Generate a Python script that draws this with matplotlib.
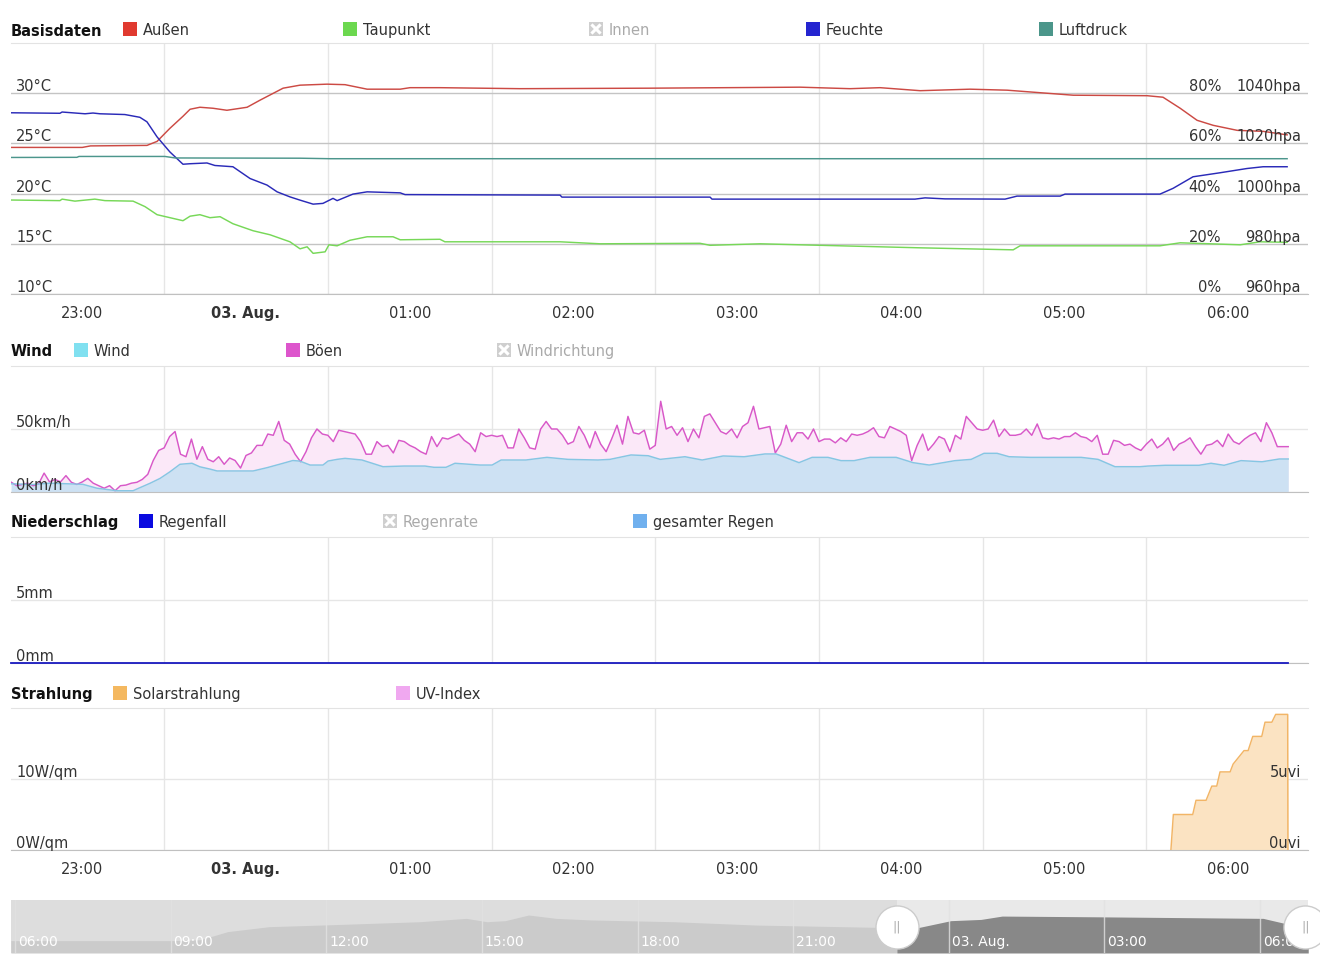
import numpy as np
import matplotlib
matplotlib.use('Agg')
import matplotlib.pyplot as plt
from matplotlib.patches import Rectangle
from matplotlib.lines import Line2D
from matplotlib import transforms as mtrans

plt.rcParams['font.family'] = ['DejaVu Sans']

# ------------------------------------------------------------------ data
# times in minutes relative to 03. Aug. 00:00
temp_t = [-86.1, -60, -57, -36.3, -32.6, -27.9, -23.1, -20.5, -16.9, -12.1, -7.0, 0.4, 5.1, 13.6,
          19.8, 29.7, 36.3, 44.4, 56.5, 60.1, 71.1, 100.4, 148.1, 203.1, 221.4, 232.4, 247.1,
          265.4, 279.0, 291.0, 303.2, 330.3, 336.1, 342.4, 348.6, 354.5, 363.3, 372.8, 381.6]
temp_out = [24.6, 24.6, 24.75, 24.8, 25.2, 26.5, 27.7, 28.4, 28.6, 28.5, 28.3, 28.6, 29.3, 30.5,
            30.8, 30.9, 30.85, 30.4, 30.4, 30.55, 30.55, 30.45, 30.5, 30.6, 30.45, 30.55, 30.25,
            30.4, 30.3, 30.05, 29.8, 29.75, 29.6, 28.5, 27.3, 26.8, 26.3, 26.2, 25.85]

dew_t = [-86.1, -68.2, -67.4, -62.7, -55.4, -51.7, -41.4, -37.0, -32.6, -23.1, -20.5, -16.9,
         -13.2, -9.5, -4.8, 2.6, 8.8, 16.1, 19.8, 22.4, 24.6, 29.0, 30.4, 33.4, 38.1, 44.4,
         53.9, 56.5, 71.1, 72.9, 115.1, 129.8, 166.4, 170.1, 188.5, 203.1, 232.4, 247.1,
         281.2, 283.7, 335.0, 342.4, 364.4, 371.7, 381.6]
dew = [19.36, 19.3, 19.45, 19.25, 19.45, 19.3, 19.25, 18.7, 17.9, 17.3, 17.75, 17.9,
       17.6, 17.7, 17.0, 16.3, 15.9, 15.2, 14.5, 14.7, 14.05, 14.2, 14.9, 14.8, 15.35, 15.7,
       15.7, 15.4, 15.45, 15.2, 15.2, 15.0, 15.05, 14.85, 15.0, 14.9, 14.7, 14.6,
       14.4, 14.8, 14.8, 15.1, 14.9, 15.2, 15.15]

hum_t = [-86.1, -68.2, -67.4, -59.0, -56.1, -53.5, -44.4, -38.9, -36.3, -32.6, -27.9, -23.1,
         -20.5, -14.3, -11.4, -4.8, 1.5, 7.7, 11.4, 16.1, 19.8, 24.6, 28.2, 31.9, 33.4, 39.2,
         44.4, 56.5, 58.3, 115.1, 115.8, 170.1, 170.8, 245.2, 248.9, 256.2, 278.2, 282.6,
         298.4, 300.2, 335.0, 339.8, 347.1, 357.0, 366.9, 372.8, 381.6]
hum = [72.2, 72.0, 72.5, 71.8, 72.1, 71.8, 71.5, 70.4, 68.6, 62.6, 56.6, 51.7,
       51.9, 52.2, 51.2, 50.7, 46.0, 43.4, 40.7, 38.7, 37.4, 35.8, 36.1, 38.1, 37.2, 39.8,
       40.7, 40.3, 39.6, 39.4, 38.6, 38.6, 37.8, 37.8, 38.3, 37.9, 37.8, 39.0,
       39.0, 39.8, 39.8, 42.1, 46.7, 48.3, 50.0, 50.7, 50.7]

press_t = [-86.1, -62.0, -61.2, -29.7, -26.0, 19.8, 30.8, 381.6]
press = [1014.4, 1014.45, 1014.8, 1014.8, 1014.2, 1014.1, 1013.9, 1013.9]

wind_t = [-86.1, -78.1, -71.8, -59.8, -54.6, -47.3, -41.4, -38.9, -35.2, -31.5, -27.9, -24.2,
          -19.8, -16.9, -13.2, -10.6, 2.6, 7.7, 13.6, 17.2, 19.8, 23.5, 28.2, 30.1, 33.4, 36.3,
          42.5, 50.2, 57.9, 65.6, 68.9, 73.3, 76.6, 85.8, 90.2, 93.5, 102.6, 110.3, 118.0,
          129.0, 133.4, 141.1, 147.4, 151.8, 160.9, 167.2, 174.9, 182.6, 190.2, 194.3, 202.7,
          207.5, 213.3, 218.1, 222.9, 228.7, 238.3, 244.5, 250.4, 259.9, 265.8, 270.5, 275.3,
          279.7, 287.4, 306.1, 312.3, 318.5, 327.7, 330.6, 336.9, 349.3, 353.7, 358.5, 364.7,
          372.4, 378.7, 382.0]
wind = [6.5, 6.0, 7.0, 6.1, 3.0, 1.0, 1.0, 3.4, 6.9, 10.8, 16.0, 22.0,
        22.8, 20.0, 18.2, 16.7, 16.7, 19.3, 22.8, 25.0, 24.5, 21.4, 21.4, 24.6, 25.9, 26.7,
        25.4, 20.1, 20.6, 20.6, 19.6, 19.6, 22.8, 21.4, 21.4, 25.4, 25.4, 27.5, 25.9,
        25.4, 25.9, 29.4, 28.8, 25.9, 28.0, 25.4, 28.6, 28.0, 30.2, 30.2, 23.3,
        27.5, 27.5, 24.9, 24.9, 27.5, 27.5, 23.3, 21.4, 24.9, 25.9, 30.7, 30.7,
        28.0, 27.5, 27.5, 25.9, 20.1, 20.1, 20.6, 21.2, 21.2, 22.8, 21.2, 24.9,
        24.0, 26.2, 26.2]

# gusts sampled every 2 minutes starting 22:34 (-86 min)
gust_start_min = -86
gust_step_min = 2
gust = [7.7, 5, 6, 7, 5, 6.5, 15, 8, 10, 8,
        13, 7.7, 6, 8, 10.8, 7, 5, 3, 5, 1,
        5, 5.5, 7, 7.7, 10, 14, 25, 33, 35, 44,
        48, 30, 28, 42, 26, 36, 26, 24, 28, 22,
        27, 25, 19, 29, 31, 37, 37, 46, 45, 56,
        41, 38, 30, 24, 32, 43, 50, 46, 45, 40,
        49, 48, 47, 46, 40, 30, 30, 40, 36, 37,
        31, 41, 40, 37, 35, 32, 30, 44, 36, 43,
        42, 44, 46, 41, 38, 32, 47, 44, 45, 44,
        45, 35, 35, 50, 43, 35, 34, 50, 56, 50,
        50, 45, 38, 40, 52, 45, 35, 48, 38, 32,
        42, 53, 38, 60, 47, 46, 49, 34, 37, 72,
        50, 52, 45, 51, 40, 50, 43, 60, 62, 55,
        48, 46, 50, 43, 52, 55, 68, 50, 51, 52,
        31, 38, 53, 40, 47, 47, 42, 50, 40, 42,
        42, 39, 43, 40, 46, 45, 46, 48, 51, 44,
        43, 52, 50, 48, 45, 25, 37, 46, 33, 38,
        44, 42, 32, 45, 42, 60, 55, 50, 49, 50,
        57, 44, 50, 45, 45, 46, 50, 45, 54, 43,
        42, 43, 42, 44, 44, 47, 44, 43, 40, 45,
        30, 30, 41, 40, 37, 38, 35, 33, 38, 42,
        35, 38, 43, 33, 38, 40, 43, 36, 30, 37,
        38, 41, 36, 46, 40, 38, 42, 45, 47, 40,
        55, 47, 36, 36, 36]

rain_t = [-86.1, 382.0]
rain = [0.0, 0.0]

solar_t = [339.0, 339.9, 347.0, 348.2, 351.9, 354.0, 355.8, 357.0, 360.7, 361.8, 365.8,
           367.3, 369.0, 372.3, 373.5, 376.0, 377.4, 381.8, 381.9]
solar = [0, 5.0, 5.0, 7.0, 7.0, 9.0, 9.0, 11.0, 11.0, 12.1, 14.0,
         14.0, 16.0, 16.0, 18.0, 18.0, 19.1, 19.1, 0]

# navigator: hours relative to 03. Aug. 00:00, outside temperature
nav_t = [-18.08, -14.97, -14.43, -13.9, -13.1, -11.9, -10.2, -9.3, -8.9, -8.55, -8.1, -7.57,
         -6.9, -5.3, -3.7, -2.06, -1.0, -0.6, 0.04, 0.62, 1.03, 2.8, 6.06, 6.47, 6.93]
nav_temp = [17.0, 17.0, 17.5, 22.1, 24.9, 26.0, 27.7, 29.6, 27.7, 28.3, 31.5, 29.6,
            28.7, 27.7, 25.8, 24.9, 24.3, 24.3, 28.3, 29.0, 30.9, 30.5, 29.6, 26.8, 26.4]
nav_sel_start = -1.0
nav_sel_end = 6.87

time_label_min = [-60, 0, 60, 120, 180, 240, 300, 360]
time_labels = ['23:00', '03. Aug.', '01:00', '02:00', '03:00', '04:00', '05:00', '06:00']
grid_min = [-30, 30, 90, 150, 210, 270, 330]
temp_ticks = [10, 15, 20, 25, 30]
hum_ticks = [0, 20, 40, 60, 80]
press_ticks = [960, 980, 1000, 1020, 1040]
wind_ticks = [0, 50]
rain_ticks = [0, 5]
solar_ticks = [0, 10]
uv_ticks = [0, 5]
nav_label_h = [-18, -15, -12, -9, -6, -3, 0, 3, 6]
nav_labels = ['06:00', '09:00', '12:00', '15:00', '18:00', '21:00', '03. Aug.', '03:00', '06:00']

# ------------------------------------------------------------------ layout
W, H = 1320, 980
fig = plt.figure(figsize=(W / 100, H / 100), dpi=100)
fig.patch.set_facecolor('white')
FS = 10.5
TXT = '#333333'
LW = 1.05
PX_PER_MIN = 163.7 / 60.0
X0_PX = 246.0
XMIN = (11 - X0_PX) / PX_PER_MIN
XMAX = (1308 - X0_PX) / PX_PER_MIN


def panel(top, bottom):
    return fig.add_axes([11 / W, 1 - bottom / H, 1297 / W, (bottom - top) / H])


def style(ax, ylim, yticks, gcol):
    ax.set_xlim(XMIN, XMAX)
    ax.set_ylim(*ylim)
    ax.set_yticks(yticks)
    ax.set_yticklabels([])
    ax.set_xticks(grid_min)
    ax.set_xticklabels([])
    ax.tick_params(which='both', length=0)
    ax.grid(axis='x', color='#e6e6e6', lw=1)
    ax.grid(axis='y', color=gcol, lw=1)
    ax.spines['left'].set_visible(False)
    ax.spines['right'].set_visible(False)
    ax.spines['top'].set_color('#e3e3e3')
    ax.spines['bottom'].set_color('#c0c0c0')
    ax.set_axisbelow(True)
    ax.set_facecolor('none')


def ylabels(ax, ticks, fmt, xfrac, ha):
    tr = mtrans.blended_transform_factory(ax.transAxes, ax.transData)
    tr = mtrans.offset_copy(tr, fig=fig, y=2, units='dots')
    for v in ticks:
        ax.text(xfrac, v, fmt.format(v), transform=tr, ha=ha, va='baseline',
                fontsize=FS, color=TXT, zorder=10)


def xlabels(ax):
    ax.set_xticks(time_label_min, minor=True)
    ax.set_xticklabels(time_labels, minor=True, fontsize=FS, color=TXT)
    ax.tick_params(axis='x', which='minor', pad=8.5, length=0)
    ax.get_xticklabels(minor=True)[1].set_fontweight('bold')


LX = (16 - 11) / 1297
RX1 = (1221 - 11) / 1297
RX2 = (1301 - 11) / 1297

# ---- panel 1: Basisdaten
ax1 = panel(43, 294)
style(ax1, (10, 35), temp_ticks, '#c4c4c4')
ax1h = ax1.twinx()
ax1h.set_ylim(0, 100)
ax1h.set_axis_off()
ax1p = ax1.twinx()
ax1p.set_ylim(960, 1060)
ax1p.set_axis_off()
ax1.plot(temp_t, temp_out, color='#cc4a44', lw=LW)
ax1.plot(dew_t, dew, color='#77d858', lw=LW)
ax1h.plot(hum_t, hum, color='#2a2ab8', lw=LW)
ax1p.plot(press_t, press, color='#4c968c', lw=LW)
ylabels(ax1, temp_ticks, '{}°C', LX, 'left')
ylabels(ax1h, hum_ticks, '{}%', RX1, 'right')
ylabels(ax1p, press_ticks, '{}hpa', RX2, 'right')
xlabels(ax1)

# ---- panel 2: Wind
ax2 = panel(366, 492)
style(ax2, (0, 100), wind_ticks, '#e6e6e6')
gust_t = [gust_start_min + gust_step_min * i for i in range(len(gust))]
ax2.fill_between(gust_t, gust, 0, color='#fbe8f8', lw=0)
ax2.fill_between(wind_t, wind, 0, color='#cde1f3', lw=0)
ax2.plot(gust_t, gust, color='#d858c8', lw=LW)
ax2.plot(wind_t, wind, color='#86c6e3', lw=LW)
ylabels(ax2, wind_ticks, '{}km/h', LX, 'left')

# ---- panel 3: Niederschlag
ax3 = panel(537, 663)
style(ax3, (0, 10), rain_ticks, '#e6e6e6')
ax3.plot(rain_t, rain, color='#1a1ac0', lw=1.3, clip_on=False, zorder=5)
ylabels(ax3, rain_ticks, '{}mm', LX, 'left')

# ---- panel 4: Strahlung
ax4 = panel(708, 850)
style(ax4, (0, 20), solar_ticks, '#e6e6e6')
ax4.fill_between(solar_t, solar, 0, color='#fbe3c2', lw=0)
ax4.plot(solar_t, solar, color='#f2b566', lw=LW)
ax4u = ax4.twinx()
ax4u.set_ylim(0, 10)
ax4u.set_axis_off()
ylabels(ax4, solar_ticks, '{}W/qm', LX, 'left')
ylabels(ax4u, uv_ticks, '{}uvi', RX2, 'right')
xlabels(ax4)

# ---- navigator
NPX_PER_H = 51.875
N0_PX = 948.75
NXMIN = (11 - N0_PX) / NPX_PER_H
NXMAX = (1308 - N0_PX) / NPX_PER_H
axn = fig.add_axes([11 / W, 1 - 953 / H, 1297 / W, 53 / H])
axn.set_xlim(NXMIN, NXMAX)
axn.set_ylim(10, 40)
axn.set_xticks([])
axn.set_yticks([])
for s in axn.spines.values():
    s.set_visible(False)
axn.axvspan(NXMIN, nav_sel_start, color='#dddddd', lw=0, zorder=0)
axn.axvspan(nav_sel_start, NXMAX, color='#e9e9e9', lw=0, zorder=0)
nt = np.array(nav_t)
nv = np.array(nav_temp)
axn.fill_between(nt, nv, 10, where=nt <= nav_sel_start, color='#cbcbcb', lw=0, zorder=1)
axn.fill_between(nt, nv, 10, where=nt >= nav_sel_start, color='#888888', lw=0, zorder=1)
btr = mtrans.blended_transform_factory(axn.transData, axn.transAxes)
for h, lab in zip(nav_label_h, nav_labels):
    axn.axvline(h, color='#e2e2e2', lw=1, zorder=2, alpha=0.8)
    axn.text(h + 3 / NPX_PER_H, 0.21, lab, transform=btr,
             ha='left', va='center', fontsize=10, color='white', zorder=3)
for hx in (nav_sel_start, nav_sel_end):
    axn.plot([hx], [0.5], marker='o', markersize=31, markerfacecolor='white',
             markeredgecolor='#cccccc', markeredgewidth=1, transform=btr,
             clip_on=False, zorder=6)
    axn.text(hx, 0.5, '||', transform=btr,
             ha='center', va='center', fontsize=9, color='#aaaaaa', zorder=7, clip_on=False)


# ------------------------------------------------------------------ legends
def title(x, yc, s):
    fig.text(x / W, 1 - (yc + 5.5) / H, s, ha='left', va='baseline', fontsize=FS,
             fontweight='bold', color='#111111')


def item(x, yc, color, label, disabled=False):
    fc = '#cfcfcf' if disabled else color
    fig.add_artist(Rectangle((x / W, 1 - (yc + 7) / H), 14 / W, 14 / H, transform=fig.transFigure,
                             facecolor=fc, edgecolor='none'))
    if disabled:
        for (a, b, c, d) in [(x + 3.5, yc - 3.5, x + 10.5, yc + 3.5), (x + 3.5, yc + 3.5, x + 10.5, yc - 3.5)]:
            fig.add_artist(Line2D([a / W, c / W], [1 - b / H, 1 - d / H], transform=fig.transFigure,
                                  color='white', lw=2.2))
    fig.text((x + 20) / W, 1 - (yc + 6) / H, label, ha='left', va='baseline', fontsize=FS,
             color='#aaaaaa' if disabled else TXT)


title(11, 30, 'Basisdaten')
item(123, 29, '#e03a2f', 'Außen')
item(343, 29, '#6cd84f', 'Taupunkt')
item(589, 29, None, 'Innen', disabled=True)
item(806, 29, '#2525d0', 'Feuchte')
item(1039, 29, '#4b968a', 'Luftdruck')

title(11, 351, 'Wind')
item(74, 350, '#80e0f0', 'Wind')
item(286, 350, '#dd55cc', 'Böen')
item(497, 350, None, 'Windrichtung', disabled=True)

title(11, 522, 'Niederschlag')
item(139, 521, '#0a0ae0', 'Regenfall')
item(383, 521, None, 'Regenrate', disabled=True)
item(633, 521, '#70b0ee', 'gesamter Regen')

title(11, 694, 'Strahlung')
item(113, 693, '#f4b860', 'Solarstrahlung')
item(396, 693, '#f0a8f0', 'UV-Index')

fig.savefig('out.png', dpi=100)
